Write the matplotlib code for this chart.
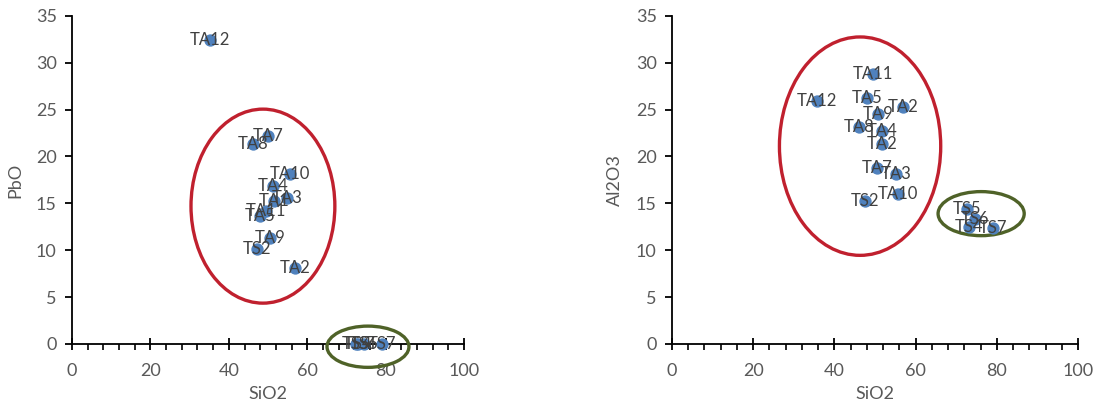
import matplotlib.pyplot as plt
from matplotlib.patches import Ellipse
from matplotlib.ticker import MultipleLocator

plt.rcParams['font.family'] = ['Lato', 'DejaVu Sans']

# sample labels and compositions (wt%)
names = ['TA12', 'TA7', 'TA8', 'TA10', 'TA4', 'TA3', 'TA1', 'TA11', 'TA5', 'TA9', 'TS2', 'TA2',
         'TS5', 'TS4', 'TS6', 'TS7']
sio2_pbo = [35.2, 50.0, 46.2, 55.6, 51.3, 54.8, 51.5, 49.5, 48.0, 50.5, 47.2, 56.9,
            72.5, 73.0, 74.5, 79.0]
pbo = [32.4, 22.2, 21.3, 18.1, 16.8, 15.6, 15.2, 14.2, 13.7, 11.3, 10.1, 8.1,
       0.0, 0.0, 0.0, 0.0]

sio2_al = [35.7, 50.5, 46.1, 55.7, 51.7, 55.2, 51.7, 49.5, 48.0, 50.7, 47.5, 56.9,
           72.5, 73.0, 74.5, 79.0]
al2o3 = [25.9, 18.8, 23.1, 16.0, 22.7, 18.1, 21.3, 28.8, 26.2, 24.5, 15.2, 25.3,
         14.4, 12.5, 13.3, 12.4]
names_al = ['TA12', 'TA7', 'TA8', 'TA10', 'TA4', 'TA3', 'TA2', 'TA11', 'TA5', 'TA9', 'TS2', 'TA2',
            'TS5', 'TS4', 'TS6', 'TS7']

fig = plt.figure(figsize=(10.98, 4.07), dpi=100)
ax1 = fig.add_axes([0.0656, 0.155, 0.357, 0.806])
ax2 = fig.add_axes([0.612, 0.155, 0.370, 0.806])

grey = '#595959'
red = '#C0202E'
green = '#4F6228'


def style(ax, ylabel):
    ax.set_xlim(0, 100)
    ax.set_ylim(0, 35)
    ax.xaxis.set_major_locator(MultipleLocator(20))
    ax.xaxis.set_minor_locator(MultipleLocator(4))
    ax.yaxis.set_major_locator(MultipleLocator(5))
    for s in ['top', 'right']:
        ax.spines[s].set_visible(False)
    for s in ['left', 'bottom']:
        ax.spines[s].set_linewidth(1.3)
        ax.spines[s].set_zorder(1)
    ax.tick_params(axis='x', which='major', direction='inout', length=9, width=1.3, pad=9,
                   labelsize=13, labelcolor=grey)
    ax.tick_params(axis='x', which='minor', direction='out', length=4, width=1.2)
    ax.tick_params(axis='y', which='major', direction='out', length=5, width=1.3, pad=6,
                   labelsize=13, labelcolor=grey)
    ax.set_xlabel('SiO2', fontsize=13, color=grey, labelpad=5)
    ax.set_ylabel(ylabel, fontsize=13, color=grey, labelpad=9)


def scatter(ax, xs, ys, labels):
    ax.scatter(xs, ys, s=62, color='#4F81BD', zorder=3, clip_on=False)
    for x, y, t in zip(xs, ys, labels):
        ax.text(x, y, t, ha='center', va='center', fontsize=12, color='#404040', zorder=4)


style(ax1, 'PbO')
style(ax2, 'Al2O3')
scatter(ax1, sio2_pbo, pbo, names)
scatter(ax2, sio2_al, al2o3, names_al)

ax1.add_patch(Ellipse((48.7, 14.7), 36.7, 20.7, fill=False, ec=red, lw=2.4, zorder=2))
ax1.add_patch(Ellipse((75.5, -0.3), 20.9, 4.4, fill=False, ec=green, lw=2.4, zorder=2, clip_on=False))
ax2.add_patch(Ellipse((46.3, 21.1), 39.7, 23.3, fill=False, ec=red, lw=2.4, zorder=2))
ax2.add_patch(Ellipse((76.1, 13.9), 21.2, 4.7, fill=False, ec=green, lw=2.4, zorder=2))

fig.savefig('out.png', dpi=100)
